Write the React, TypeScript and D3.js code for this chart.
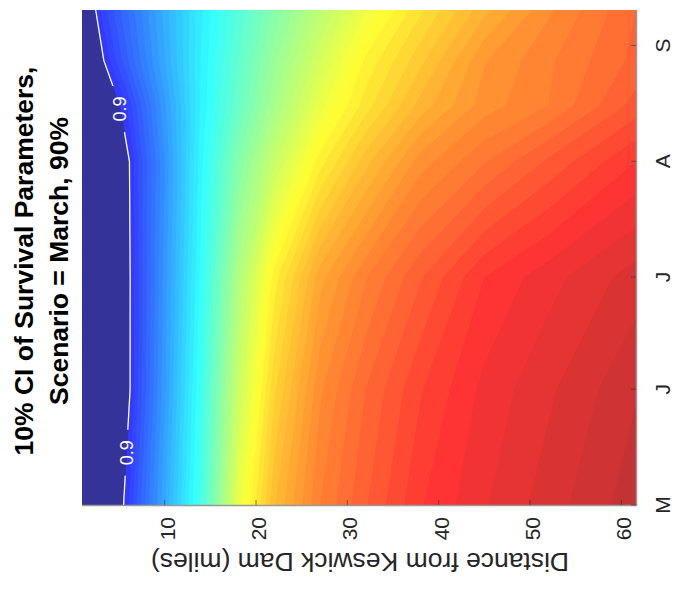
import React from 'react';
import * as d3 from 'd3';

// Distance from Keswick Dam (miles) at the grid columns
const distances = [0.95, 3, 6, 10, 14, 18, 22, 27, 32, 38, 45, 52, 61.6];
// Day of year of the grid rows (May 1 ... ~Sep 10)
const days = [121, 152, 182, 213, 228, 240, 253.5];
const survival = [
  [0.97, 0.94, 0.892, 0.801, 0.709, 0.577, 0.501, 0.45, 0.421, 0.391, 0.371, 0.355, 0.334],
  [0.96, 0.935, 0.905, 0.812, 0.717, 0.602, 0.522, 0.462, 0.43, 0.401, 0.377, 0.362, 0.341],
  [0.96, 0.935, 0.905, 0.816, 0.726, 0.625, 0.545, 0.484, 0.451, 0.421, 0.39, 0.374, 0.355],
  [0.96, 0.935, 0.903, 0.82, 0.733, 0.661, 0.603, 0.545, 0.504, 0.465, 0.441, 0.418, 0.39],
  [0.955, 0.93, 0.887, 0.812, 0.738, 0.683, 0.631, 0.574, 0.535, 0.496, 0.465, 0.45, 0.416],
  [0.95, 0.905, 0.86, 0.8, 0.739, 0.69, 0.643, 0.592, 0.548, 0.513, 0.471, 0.452, 0.427],
  [0.93, 0.889, 0.849, 0.796, 0.742, 0.699, 0.658, 0.613, 0.57, 0.532, 0.493, 0.462, 0.43],
];
const distanceTicks = [10, 20, 30, 40, 50, 60];
const monthTickDays = [121, 152, 182, 213, 244];
const monthLabels = ['M', 'J', 'J', 'A', 'S'];
const titleLines = ['10% CI of Survival Parameters,', 'Scenario = March, 90%'];
const xLabel = 'Distance from Keswick Dam (miles)';
const contourLevel = 0.9;
const contourLabelDays = [227, 135];

const FONT = '"Liberation Sans", Arial, Helvetica, sans-serif';

function jet(t: number): [number, number, number] {
  const c = (v: number) => Math.max(0, Math.min(1, v));
  return [c(1.5 - Math.abs(4 * t - 3)), c(1.5 - Math.abs(4 * t - 2)), c(1.5 - Math.abs(4 * t - 1))];
}

function colorFor(s: number): string {
  const t = s >= contourLevel ? 0 : 0.125 + (contourLevel - s) * 1.4583;
  const [r, g, b] = jet(Math.min(1, t));
  const f = (v: number) => Math.round(255 * (0.2 + 0.8 * v));
  return d3.rgb(f(r), f(g), f(b)).formatHex();
}

export default function App() {
  const W = 677;
  const H = 593;
  const plot = { left: 82, right: 636, top: 10, bottom: 505 };

  const x = d3.scaleLinear().domain([distances[0], distances[distances.length - 1]]).range([plot.left, plot.right]);
  const y = d3.scaleLinear().domain([days[0], days[days.length - 1]]).range([plot.bottom, plot.top]);

  const n = distances.length;
  const m = days.length;
  const values = survival.flat();
  const thresholds = d3.range(33, 90).map((v) => v / 100).concat([contourLevel]);
  const bands = d3.contours().size([n, m]).thresholds(thresholds)(values);

  const xi = d3.scaleLinear().domain(d3.range(n)).range(distances);
  const yi = d3.scaleLinear().domain(d3.range(m)).range(days);
  const proj = d3.geoTransform({
    point(px: number, py: number) {
      const fx = Math.max(0, Math.min(n - 1, px - 0.5));
      const fy = Math.max(0, Math.min(m - 1, py - 0.5));
      (this as any).stream.point(x(xi(fx)), y(yi(fy)));
    },
  });
  const path = d3.geoPath(proj);

  // 0.9 isoline: crossing in each row
  const crossing: { d: number; day: number }[] = [];
  survival.forEach((row, r) => {
    for (let j = 0; j < row.length - 1; j++) {
      if (row[j] >= contourLevel && row[j + 1] < contourLevel) {
        const f = (row[j] - contourLevel) / (row[j] - row[j + 1]);
        crossing.push({ d: distances[j] + f * (distances[j + 1] - distances[j]), day: days[r] });
        break;
      }
    }
  });
  const line = d3
    .line<{ d: number; day: number }>()
    .x((p) => x(p.d))
    .y((p) => y(p.day));
  const dAtDay = d3.scaleLinear().domain(crossing.map((p) => p.day)).range(crossing.map((p) => p.d));
  const labels = contourLabelDays.map((day) => ({ cx: x(dAtDay(day)), cy: y(day) }));

  return (
    <svg
      width={W}
      height={H}
      style={{ position: 'absolute', left: 0, top: 0, background: '#fff' }}
      xmlns="http://www.w3.org/2000/svg"
    >
      <defs>
        <clipPath id="plotClip">
          <rect x={plot.left} y={plot.top} width={plot.right - plot.left} height={plot.bottom - plot.top} />
        </clipPath>
        <mask id="labelGap">
          <rect x={0} y={0} width={W} height={H} fill="#fff" />
          {labels.map((l, i) => (
            <rect key={i} x={l.cx - 15} y={l.cy - 23} width={30} height={46} fill="#000" />
          ))}
        </mask>
      </defs>

      <g clipPath="url(#plotClip)">
        {bands.map((b, i) => (
          <path
            key={i}
            d={path(b as any) || ''}
            fill={b.value >= contourLevel ? colorFor(b.value) : colorFor(b.value + 0.005)}
            stroke="none"
          />
        ))}
        <path d={line(crossing) || ''} fill="none" stroke="#fff" strokeWidth={1.3} mask="url(#labelGap)" />
        {labels.map((l, i) => (
          <text
            key={i}
            transform={`translate(${l.cx},${l.cy}) rotate(-90)`}
            textAnchor="middle"
            dominantBaseline="central"
            fontFamily={FONT}
            fontSize={18}
            fill="#fff"
          >
            {contourLevel.toFixed(1)}
          </text>
        ))}
      </g>

      {/* axes box lines */}
      <line x1={plot.left} x2={plot.right + 1} y1={plot.bottom + 0.5} y2={plot.bottom + 0.5} stroke="#999" strokeWidth={1.5} />
      <line x1={plot.right + 0.5} x2={plot.right + 0.5} y1={plot.top} y2={plot.bottom + 1} stroke="#999" strokeWidth={1.5} />

      {/* distance ticks */}
      {distanceTicks.map((d) => (
        <g key={d}>
          <line x1={x(d)} x2={x(d)} y1={plot.bottom} y2={plot.bottom - 5} stroke="#333" strokeOpacity={0.6} />
          <text
            transform={`translate(${x(d) + 10},${plot.bottom + 12}) rotate(-90)`}
            textAnchor="end"
            fontFamily={FONT}
            fontSize={21}
            fill="#262626"
          >
            {d}
          </text>
        </g>
      ))}

      {/* month ticks */}
      {monthTickDays.map((day, i) => (
        <g key={i}>
          <line x1={plot.right} x2={plot.right - 5} y1={y(day)} y2={y(day)} stroke="#333" strokeOpacity={0.6} />
          <text
            transform={`translate(${670},${y(day)}) rotate(-90)`}
            textAnchor="middle"
            fontFamily={FONT}
            fontSize={21}
            fill="#262626"
          >
            {monthLabels[i]}
          </text>
        </g>
      ))}

      {/* axis label (upside down) */}
      <text
        transform={`translate(${(plot.left + plot.right) / 2 + 1},${553}) rotate(180)`}
        textAnchor="middle"
        fontFamily={FONT}
        fontSize={26.5}
        fill="#262626"
      >
        {xLabel}
      </text>

      {/* title */}
      {titleLines.map((t, i) => (
        <text
          key={i}
          transform={`translate(${33 + i * 35},${261}) rotate(-90)`}
          textAnchor="middle"
          fontFamily={FONT}
          fontWeight="bold"
          fontSize={26.5}
          fill="#000"
        >
          {t}
        </text>
      ))}
    </svg>
  );
}
